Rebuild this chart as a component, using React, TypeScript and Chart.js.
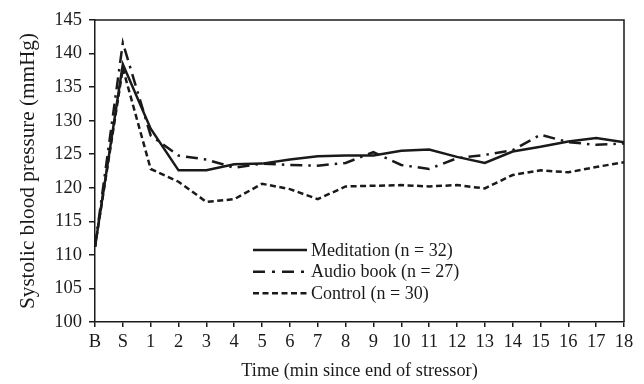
import React, { useEffect, useRef } from "react";
import { Chart, registerables } from "chart.js";

Chart.register(...registerables);

const timeLabels = ["B", "S", "1", "2", "3", "4", "5", "6", "7", "8", "9", "10", "11", "12", "13", "14", "15", "16", "17", "18"];
const meditation = [111.2, 138.4, 128.8, 122.6, 122.6, 123.5, 123.6, 124.2, 124.7, 124.8, 124.8, 125.5, 125.7, 124.6, 123.7, 125.4, 126.1, 126.9, 127.4, 126.8];
const audioBook = [111.2, 141.6, 127.8, 124.8, 124.2, 123.0, 123.6, 123.4, 123.3, 123.7, 125.3, 123.4, 122.8, 124.4, 124.9, 125.6, 127.9, 126.8, 126.4, 126.6];
const control = [111.2, 137.8, 122.8, 120.9, 117.9, 118.3, 120.6, 119.8, 118.3, 120.2, 120.3, 120.4, 120.2, 120.4, 119.9, 121.9, 122.6, 122.3, 123.1, 123.8];
const seriesNames = ["Meditation (n = 32)", "Audio book (n = 27)", "Control (n = 30)"];
const yTicks = [100, 105, 110, 115, 120, 125, 130, 135, 140, 145];

const FONT = "'Liberation Serif', 'Times New Roman', serif";
const INK = "#1a1a1a";

const frameAndLegend = {
  id: "frameAndLegend",
  afterDatasetsDraw(chart: any) {
    const { ctx, chartArea } = chart;
    ctx.save();
    ctx.strokeStyle = INK;
    ctx.lineWidth = 1.5;
    ctx.beginPath();
    ctx.moveTo(chartArea.left, chartArea.top);
    ctx.lineTo(chartArea.right, chartArea.top);
    ctx.lineTo(chartArea.right, chartArea.bottom);
    ctx.stroke();

    const x0 = 253;
    const x1 = 307;
    const rows = [250, 271.7, 293.3];
    chart.data.datasets.forEach((ds: any, i: number) => {
      const y = rows[i];
      ctx.strokeStyle = INK;
      ctx.lineWidth = 2.5;
      ctx.setLineDash(ds.legendDash || []);
      ctx.beginPath();
      ctx.moveTo(x0, y);
      ctx.lineTo(x1, y);
      ctx.stroke();
      ctx.setLineDash([]);
      ctx.fillStyle = INK;
      ctx.font = `18px ${FONT}`;
      ctx.textAlign = "left";
      ctx.textBaseline = "middle";
      ctx.fillText(ds.label, x1 + 4, y + 1);
    });
    ctx.restore();
  },
};

export default function App() {
  const ref = useRef<HTMLCanvasElement | null>(null);
  useEffect(() => {
    document.body.style.margin = "0";
    const canvas = ref.current!;
    const chart = new Chart(canvas, {
      type: "line",
      data: {
        labels: timeLabels,
        datasets: [
          { label: seriesNames[0], data: meditation, borderColor: INK, borderWidth: 2.5, pointRadius: 0, tension: 0, fill: false, legendDash: [] } as any,
          { label: seriesNames[1], data: audioBook, borderColor: INK, borderWidth: 2.5, pointRadius: 0, tension: 0, fill: false, borderDash: [12, 6, 2.5, 6], legendDash: [12, 7, 3, 7] } as any,
          { label: seriesNames[2], data: control, borderColor: INK, borderWidth: 2.5, pointRadius: 0, tension: 0, fill: false, borderDash: [6, 3.5], legendDash: [6, 3.5] } as any,
        ],
      },
      options: {
        responsive: false,
        animation: false,
        layout: { padding: { top: 20, right: 20, left: 0, bottom: 0 } },
        plugins: { legend: { display: false }, tooltip: { enabled: false } },
        scales: {
          x: {
            type: "category",
            offset: false,
            grid: { display: true, drawOnChartArea: false, drawTicks: true, tickLength: 5, color: INK, lineWidth: 1.5 },
            border: { display: true, color: INK, width: 1.5 },
            ticks: { color: INK, font: { family: FONT, size: 18.5 }, padding: 4, maxRotation: 0, autoSkip: false },
            title: { display: true, text: "Time (min since end of stressor)", color: INK, font: { family: FONT, size: 18.3 }, padding: { top: 4, bottom: 2 } },
            afterFit: (s: any) => { s.height = 62; },
          },
          y: {
            type: "linear",
            min: 100,
            max: 145,
            afterBuildTicks: (s: any) => { s.ticks = yTicks.map((v) => ({ value: v })); },
            grid: { display: true, drawOnChartArea: false, drawTicks: true, tickLength: 6, color: INK, lineWidth: 1.5 },
            border: { display: true, color: INK, width: 1.5 },
            ticks: { color: INK, font: { family: FONT, size: 18.5 }, padding: 7 },
            title: { display: true, text: "Systolic blood pressure (mmHg)", color: INK, font: { family: FONT, size: 21.2 }, padding: { top: 16, bottom: 4 } },
            afterFit: (s: any) => { s.width = 95; },
          },
        },
      },
      plugins: [frameAndLegend],
    });
    return () => chart.destroy();
  }, []);
  return (
    <div style={{ width: 644, height: 384 }}>
      <canvas ref={ref} width={644} height={384} style={{ width: 644, height: 384, display: "block" }} />
    </div>
  );
}
